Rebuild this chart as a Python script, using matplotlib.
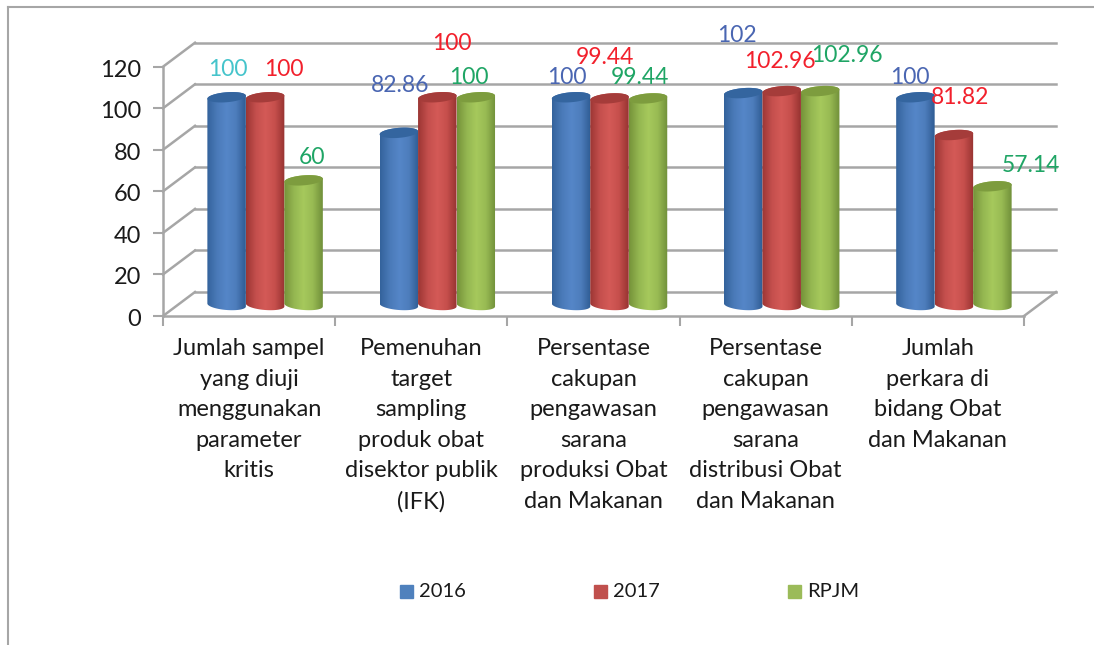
import numpy as np
import matplotlib.pyplot as plt
from matplotlib.path import Path
from matplotlib.patches import PathPatch, Rectangle
from matplotlib.colors import LinearSegmentedColormap
from matplotlib.transforms import ScaledTranslation

plt.rcParams['font.family'] = ['Lato', 'DejaVu Sans']

categories = ["Jumlah sampel\nyang diuji\nmenggunakan\nparameter\nkritis",
              "Pemenuhan\ntarget\nsampling\nproduk obat\ndisektor publik\n(IFK)",
              "Persentase\ncakupan\npengawasan\nsarana\nproduksi Obat\ndan Makanan",
              "Persentase\ncakupan\npengawasan\nsarana\ndistribusi Obat\ndan Makanan",
              "Jumlah\nperkara di\nbidang Obat\ndan Makanan"]
series = ["2016", "2017", "RPJM"]
v2016 = [100, 82.86, 100, 102, 100]
v2017 = [100, 100, 99.44, 102.96, 81.82]
vrpjm = [60, 100, 99.44, 102.96, 57.14]
yticks = [0, 20, 40, 60, 80, 100, 120]

# label text does not always sit on its bar in the original, so these are hand placed (pixels)
label_pos = {
    "2016": [(228, 70), (400, 86), (567, 78), (737, 36), (910, 78)],
    "2017": [(284, 70), (452, 44), (605, 58), (780, 61), (960, 97)],
    "RPJM": [(312, 158), (469, 78), (640, 78), (847, 55), (1031, 165)],
}
label_col = {"2016": ["#45c4cb", "#4a66b2", "#4a66b2", "#4a66b2", "#4a66b2"],
             "2017": ["#f2202c"] * 5,
             "RPJM": ["#1fa565"] * 5}
ramps = {"2016": ["#34639c", "#4a7ab8", "#5586c8", "#4d7dbc", "#2f5c93"],
         "2017": ["#9c3634", "#c44f4d", "#d45a57", "#c64f4c", "#973331"],
         "RPJM": ["#76933a", "#94b651", "#a6c95c", "#98ba53", "#71903a"]}
tops = {"2016": "#34659f", "2017": "#a53c3a", "RPJM": "#7d9c3e"}
legend_col = {"2016": "#4f81bd", "2017": "#c0504d", "RPJM": "#9bbb59"}
grid = "#a6a6a6"

W, H = 1094, 645
fig = plt.figure(figsize=(W / 100, H / 100), dpi=100)
ax = fig.add_axes([163 / W, 1 - 316 / H, (1024 - 163) / W, (316 - 66.7) / H])
ax.set_xlim(0, 5)
ax.set_ylim(0, 120)
ax.set_facecolor("none")

px_x = 5 / (1024 - 163)  # data units per pixel
px_y = 120 / (316 - 66.7)
wall_dx, wall_dy = 32 * px_x, 24 * px_y
mid_dx, mid_dy = 16 * px_x, 11 * px_y

# back wall + side wall lines
for v in yticks:
    ax.plot([wall_dx, 5 + wall_dx], [v + wall_dy] * 2, color=grid, lw=1.8, clip_on=False, zorder=1)
    ax.plot([0, wall_dx], [v, v + wall_dy], color=grid, lw=1.8, clip_on=False, zorder=1)
ax.plot([5, 5 + wall_dx], [0, wall_dy], color=grid, lw=1.8, clip_on=False, zorder=1)


def cylinder(xc, value, name):
    w = 0.2235 / 2
    ry = 5 * px_y
    skew = 1.5 * px_y
    t = np.linspace(0, np.pi, 40)
    xb, yb = xc + mid_dx, mid_dy
    # outline: bottom half of base ellipse, then up and over the back of the top ellipse
    bx = xb - w * np.cos(t)
    by = yb - ry * np.sin(t) + skew * np.cos(t)
    tx = xb + w * np.cos(t)
    ty = yb + value + ry * np.sin(t) + skew * np.cos(t)
    verts = np.column_stack([np.r_[bx, tx], np.r_[by, ty]])
    body = PathPatch(Path(np.vstack([verts, verts[0]])), fc="none", ec="none", transform=ax.transData)
    ax.add_patch(body)
    cmap = LinearSegmentedColormap.from_list(name, ramps[name])
    im = ax.imshow(np.linspace(0, 1, 64).reshape(1, -1), cmap=cmap, aspect="auto", interpolation="bilinear",
                   extent=(xb - w, xb + w, yb - 2 * ry, yb + value + 2 * ry), zorder=3)
    im.set_clip_path(body)
    # top cap
    a = np.linspace(0, 2 * np.pi, 60)
    cap = np.column_stack([xb + w * np.cos(a), yb + value + ry * np.sin(a) + skew * np.cos(a)])
    ax.add_patch(PathPatch(Path(cap), fc=tops[name], ec="none", zorder=4, clip_on=False))


for vals, name, off in zip([v2016, v2017, vrpjm], series, [-0.2235, 0, 0.2235]):
    for i, v in enumerate(vals):
        cylinder(i + 0.5 + off, v, name)
    for v, (lx, ly), c in zip(vals, label_pos[name], label_col[name]):
        txt = ("%g" % v)
        fig.text(lx / W, 1 - ly / H, txt, color=c, fontsize=16.5, ha="center", va="center", zorder=6)

ax.set_xlim(0, 5)
ax.set_ylim(0, 120)
ax.set_xticks(range(6))
ax.set_xticklabels([])
ax.set_xticks(np.arange(5) + 0.5, categories, minor=True, fontsize=17, linespacing=1.56, color="#1a1a1a")
ax.tick_params(axis="x", which="major", length=7, color=grid, width=1.5)
ax.tick_params(axis="x", which="minor", length=0, pad=16)
ax.set_yticks(yticks)
ax.tick_params(axis="y", length=7, color=grid, width=1.5, labelsize=17, labelcolor="#1a1a1a", pad=9)
for lab in ax.get_yticklabels():
    lab.set_transform(lab.get_transform() + ScaledTranslation(0, -1.5 / 100, fig.dpi_scale_trans))
for s in ["top", "right"]:
    ax.spines[s].set_visible(False)
for s in ["left", "bottom"]:
    ax.spines[s].set_color(grid)
    ax.spines[s].set_linewidth(1.8)

# legend
for name, sx in zip(series, [400, 594, 788]):
    fig.add_artist(Rectangle((sx / W, 1 - 598 / H), 13 / W, 13 / H, color=legend_col[name], transform=fig.transFigure))
    fig.text((sx + 19) / W, 1 - 591.5 / H, name, fontsize=14.5, color="#1a1a1a", va="center")

# chart frame
fig.add_artist(plt.Line2D([8 / W, 8 / W], [0, 1 - 6.5 / H], color=grid, lw=1.5))
fig.add_artist(plt.Line2D([8 / W, 1], [1 - 6.5 / H, 1 - 6.5 / H], color=grid, lw=1.5))

fig.savefig("out.png", dpi=100)
